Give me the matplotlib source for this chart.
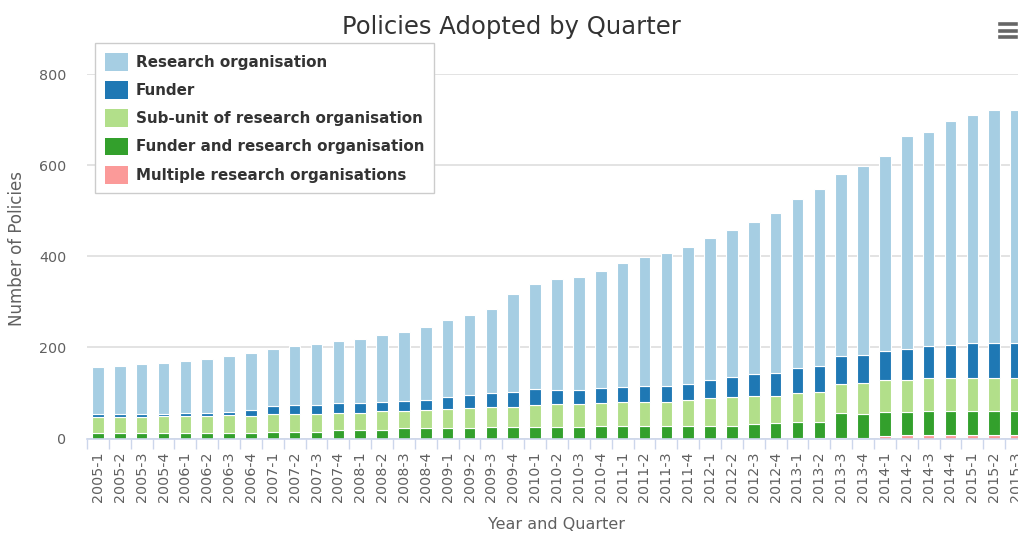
import matplotlib
matplotlib.use("Agg")
import matplotlib.pyplot as plt
from matplotlib.patches import Patch
from matplotlib.lines import Line2D
import numpy as np

quarters = [f"{y}-{q}" for y in range(2005, 2016) for q in range(1, 5)][:43]

multiple = [0, 0, 0, 0, 0, 0, 0,
            0, 0, 0, 0, 0, 0, 0,
            0, 0, 0, 0, 0, 0, 0,
            0, 0, 0, 0, 0, 0, 0, 0,
            0, 0, 0, 2, 2, 2, 2,
            6, 7, 7, 7, 7, 7, 7]
funder_ro = [11, 11, 11, 11, 11, 11, 11,
             13, 15, 15, 15, 19, 19, 19,
             22, 22, 22, 22, 25, 25, 25,
             26, 26, 28, 28, 28, 28, 28, 28,
             28, 32, 33, 34, 34, 53,
             51, 52, 52, 54, 54, 54, 54, 54]
subunit = [36, 36, 36, 38, 38, 38, 40,
           37, 38, 38, 38, 38, 38, 42,
           39, 41, 42, 46, 45, 45, 49,
           50, 50, 51, 53, 53, 53, 57, 60,
           63, 62, 61, 64, 66, 65,
           68, 70, 70, 71, 72, 72, 72, 72]
funder = [7, 6, 7, 4, 7, 7, 8,
          13, 19, 21, 21, 21, 21, 19,
          22, 22, 28, 27, 30, 32, 34,
          31, 31, 31, 33, 35, 35, 34, 41,
          44, 47, 49, 54, 58, 62,
          63, 64, 67, 72, 73, 77, 77, 77]
research_org = [103, 107, 109, 113, 113, 119, 123,
                125, 124, 130, 133, 135, 140, 148,
                151, 159, 167, 176, 185, 216, 232,
                242, 248, 257, 272, 282, 292, 301, 310,
                322, 334, 352, 371, 387, 398,
                414, 428, 469, 469, 490, 501, 510, 510]

series = [
    ("Multiple research organisations", multiple, "#fb9a99"),
    ("Funder and research organisation", funder_ro, "#33a02c"),
    ("Sub-unit of research organisation", subunit, "#b2df8a"),
    ("Funder", funder, "#1f78b4"),
    ("Research organisation", research_org, "#a6cee3"),
]

W, H = 1018, 533
fig = plt.figure(figsize=(W / 100, H / 100), dpi=100)
plt.rcParams['font.family'] = ['DejaVu Sans']

left, right, bottom, top = 87, 1027, 533 - 438.5, 533 - 74
ax = fig.add_axes([left / W, bottom / H, (right - left) / W, (top - bottom) / H])

x = np.arange(len(quarters))
base = np.zeros(len(quarters))
for name, vals, col in series:
    v = np.array(vals, dtype=float)
    ax.bar(x, v, bottom=base, width=0.53, color=col, edgecolor="white",
           linewidth=0.8, zorder=3)
    base += v

ax.set_xlim(-0.5, len(quarters) - 0.5)
ax.set_ylim(0, 800)
ax.set_yticks([0, 200, 400, 600, 800])
ax.grid(axis="y", color="#e0e0e0", linewidth=1.3, zorder=0)
ax.set_axisbelow(True)
for s in ["left", "right", "top"]:
    ax.spines[s].set_visible(False)
ax.spines["bottom"].set_color("#ccd6eb")
ax.spines["bottom"].set_linewidth(1.2)
ax.spines["bottom"].set_zorder(4)

ax.set_xticks(x)
ax.set_xticklabels(quarters, rotation=90, fontsize=10.3, color="#606060")
ax.set_xticks(np.arange(-0.5, len(quarters), 1), minor=True)
ax.tick_params(axis="x", which="major", length=0, pad=9)
ax.tick_params(axis="x", which="minor", length=7.5, color="#ccd6eb", width=1)
ax.tick_params(axis="y", length=0, pad=15, labelsize=10.3, labelcolor="#606060")

ax.set_ylabel("Number of Policies", fontsize=12, color="#606060")
ax.yaxis.set_label_coords((26 - left) / (right - left), 0.52)
ax.set_xlabel("Year and Quarter", fontsize=11.5, color="#606060", labelpad=11)

fig.text(511 / W, 1 - 27 / H, "Policies Adopted by Quarter",
         ha="center", va="center", fontsize=17.5, color="#333333")

fs_pt = 10.9
handles = [Patch(facecolor=col, edgecolor="none", label=name) for name, _, col in series[::-1]]
leg = fig.legend(handles=handles, loc="upper left",
                 bbox_to_anchor=(95 / W, 1 - 43 / H), bbox_transform=fig.transFigure,
                 prop={"size": fs_pt, "weight": "bold"}, labelcolor="#333333",
                 handlelength=1.54, handleheight=1.43, labelspacing=0.69,
                 handletextpad=0.5, borderpad=0.65, borderaxespad=0,
                 fancybox=False, framealpha=1, edgecolor="#cccccc")
leg.get_frame().set_linewidth(1.0)

# hamburger menu icon
for yy in [24, 30.5, 37]:
    fig.add_artist(Line2D([1000 / W, 1016 / W], [1 - yy / H, 1 - yy / H],
                          color="#666666", linewidth=2.6, transform=fig.transFigure))

fig.savefig("out.png", dpi=100)
